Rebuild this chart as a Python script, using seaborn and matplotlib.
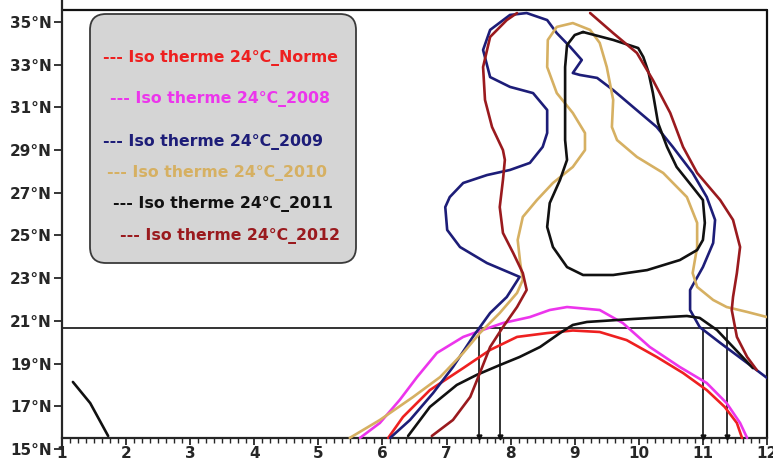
import numpy as np
import pandas as pd
import matplotlib
matplotlib.use("Agg")
import matplotlib.pyplot as plt
import seaborn as sns
from matplotlib.patches import FancyBboxPatch
from matplotlib.transforms import IdentityTransform

# ---------------- data (longitude, latitude of the 24°C isotherm) ----------------
norme_lon = [6.09, 6.32, 6.74, 7.26, 7.68, 8.10, 8.57, 8.97, 9.39, 9.81, 10.28, 10.69, 11.06, 11.34, 11.53, 11.61]
norme_lat = [15.52, 16.50, 17.76, 18.79, 19.64, 20.25, 20.43, 20.55, 20.48, 20.10, 19.31, 18.56, 17.76, 16.97, 16.22, 15.52]

y2008_lon = [5.65, 5.96, 6.27, 6.54, 6.85, 7.26, 7.52, 7.88, 8.30, 8.61, 8.88, 9.39, 9.75, 10.17, 10.64, 11.06, 11.37, 11.58, 11.69]
y2008_lat = [15.52, 16.22, 17.30, 18.37, 19.50, 20.25, 20.53, 20.90, 21.18, 21.51, 21.65, 21.51, 20.90, 19.78, 18.84, 18.09, 17.15, 16.22, 15.52]

y2009_lon = [6.12, 6.43, 6.79, 7.10, 7.41, 7.68, 7.94, 8.14, 7.63, 7.21, 7.01, 6.98, 7.05, 7.26, 7.63, 7.99,
             8.30, 8.50, 8.57, 8.57, 8.35, 7.99, 7.68, 7.57, 7.68, 7.99, 8.25, 8.57, 8.72, 8.93, 9.11, 8.97,
             9.08, 9.35, 9.60, 9.91, 10.28, 10.53, 10.84, 11.06, 11.19, 11.16, 11.00, 10.80, 10.80, 10.95,
             11.27, 11.69, 12.00]
y2009_lat = [15.52, 16.36, 17.62, 18.84, 20.25, 21.37, 22.12, 23.06, 23.71, 24.46, 25.26, 26.33, 26.80, 27.46, 27.83, 28.07,
             28.40, 29.15, 29.80, 30.88, 31.67, 31.96, 32.42, 33.69, 34.63, 35.33, 35.42, 35.09, 34.48, 33.83, 33.22, 32.61,
             32.52, 32.38, 31.81, 31.02, 30.08, 29.15, 27.93, 26.80, 25.73, 24.65, 23.52, 22.45, 21.51, 20.71,
             19.97, 19.03, 18.33]

y2010_lon = [5.49, 5.96, 6.48, 6.90, 7.26, 7.52, 7.83, 8.10, 8.19, 8.15, 8.11, 8.19, 8.41, 8.66, 8.97, 9.16, 9.16,
             8.97, 8.72, 8.57, 8.58, 8.72, 8.97, 9.24, 9.39, 9.50, 9.60, 9.58, 9.66, 9.97, 10.38, 10.75, 10.91,
             10.91, 10.84, 10.91, 11.16, 11.37, 11.69, 12.00]
y2010_lat = [15.52, 16.36, 17.44, 18.37, 19.50, 20.43, 21.37, 22.31, 22.92, 23.71, 24.79, 25.87, 26.66, 27.46, 28.21, 29.00, 29.80,
             30.74, 31.67, 32.89, 34.16, 34.77, 34.95, 34.63, 34.02, 32.89, 31.35, 30.08, 29.47, 28.68, 27.93, 26.80, 25.59,
             24.46, 23.24, 22.59, 21.98, 21.65, 21.42, 21.18]

y2011_south_lon = [6.40, 6.74, 7.16, 7.47, 7.83, 8.14, 8.46, 8.77, 8.97, 9.19, 9.91, 10.75, 10.95, 11.22, 11.47, 11.78]
y2011_south_lat = [15.61, 16.97, 18.00, 18.47, 18.93, 19.31, 19.78, 20.43, 20.81, 20.95, 21.09, 21.23, 21.14, 20.57, 19.78, 18.79]
y2011_loop_lon = [9.13, 9.60, 9.99, 10.07, 10.15, 10.22, 10.30, 10.44, 10.59, 10.84, 11.00, 11.03, 11.00, 10.91, 10.64,
                  10.13, 9.60, 9.13, 8.88, 8.66, 8.57, 8.61, 8.77, 8.88, 8.85, 8.85, 8.85, 8.88, 9.00, 9.13]
y2011_loop_lat = [34.53, 34.16, 33.78, 33.36, 32.66, 31.67, 30.27, 29.15, 28.21, 27.27, 26.66, 25.59, 24.79, 24.32, 23.85,
                  23.38, 23.15, 23.15, 23.52, 24.46, 25.40, 26.52, 27.60, 28.54, 29.47, 31.35, 32.89, 33.92, 34.39, 34.53]
y2011_west_lon = [1.17, 1.44, 1.72]
y2011_west_lat = [18.14, 17.15, 15.61]

y2012_west_lon = [6.77, 7.10, 7.37, 7.52, 7.68, 7.88, 8.10, 8.25, 8.19, 8.04, 7.88, 7.83, 7.88, 7.91, 7.88, 7.71,
                  7.60, 7.57, 7.68, 7.94, 8.10]
y2012_west_lat = [15.61, 16.36, 17.44, 18.56, 19.78, 20.71, 21.65, 22.45, 23.24, 24.18, 25.12, 26.33, 27.60, 28.54, 29.00, 30.08,
                  31.35, 32.89, 34.30, 35.09, 35.42]
y2012_east_lon = [9.24, 9.60, 9.97, 10.22, 10.49, 10.69, 10.91, 11.27, 11.47, 11.58, 11.53, 11.47, 11.45, 11.53, 11.69, 11.84]
y2012_east_lat = [35.42, 34.48, 33.55, 32.28, 30.74, 29.15, 27.93, 26.66, 25.73, 24.46, 23.24, 22.12, 21.51, 20.25, 19.31, 18.70]

ref_lat = 20.65                       # horizontal reference latitude
ref_lons = [7.50, 7.83, 11.00, 11.37] # vertical markers
axis_lat = 15.52

series_names = ["Norme", "2008", "2009", "2010", "2011", "2012"]
series_colors = ["#ee2020", "#ec35ec", "#1d1d78", "#d6b062", "#111111", "#9a1a1e"]
legend_labels = ["--- Iso therme 24°C_Norme", "--- Iso therme 24°C_2008", "--- Iso therme 24°C_2009",
                 "--- Iso therme 24°C_2010", "--- Iso therme 24°C_2011", "--- Iso therme 24°C_2012"]
xtick_vals = list(range(1, 13))
ytick_vals = list(range(15, 36, 2))
ytick_labels = [f"{v}°N" for v in ytick_vals]

# ---------------- build long table ----------------
segments = [
    ("Norme", "n", norme_lon, norme_lat),
    ("2008", "a", y2008_lon, y2008_lat),
    ("2009", "b", y2009_lon, y2009_lat),
    ("2010", "c", y2010_lon, y2010_lat),
    ("2011", "d1", y2011_south_lon, y2011_south_lat),
    ("2011", "d2", y2011_loop_lon, y2011_loop_lat),
    ("2011", "d3", y2011_west_lon, y2011_west_lat),
    ("2012", "e1", y2012_west_lon, y2012_west_lat),
    ("2012", "e2", y2012_east_lon, y2012_east_lat),
]
rows = []
for name, seg, lo, la in segments:
    for i, (x, y) in enumerate(zip(lo, la)):
        rows.append({"series": name, "seg": seg, "order": i, "lon": x, "lat": y})
df = pd.DataFrame(rows)

sns.set_style("ticks")
plt.rcParams["font.family"] = ["DejaVu Sans"]
plt.rcParams["font.weight"] = "bold"

fig = plt.figure(figsize=(7.73, 4.67), dpi=100)
ax = fig.add_axes([62 / 773, 18 / 467, 705 / 773, 449 / 467])

palette = dict(zip(series_names, series_colors))
sns.lineplot(data=df, x="lon", y="lat", hue="series", units="seg", estimator=None,
             sort=False, palette=palette, linewidth=1.9, legend=False, ax=ax, zorder=3,
             solid_joinstyle="round", solid_capstyle="round")

ax.set_xlim(1, 12)
ax.set_ylim(15, 36.03)
ax.set_xlabel("")
ax.set_ylabel("")

# frame
for s in ["top", "right"]:
    ax.spines[s].set_visible(False)
ax.spines["bottom"].set_position(("data", axis_lat))
ax.spines["bottom"].set_linewidth(1.6)
ax.spines["left"].set_linewidth(1.6)
ax.plot([1, 12], [35.56, 35.56], color="#111111", lw=1.6, zorder=2, clip_on=False)
ax.plot([12, 12], [axis_lat, 35.56], color="#111111", lw=1.6, zorder=2, clip_on=False)

# reference lines
ax.axhline(ref_lat, color="#333333", lw=1.4, zorder=2)
for xv in ref_lons:
    ax.plot([xv, xv], [axis_lat, ref_lat], color="#111111", lw=1.2, zorder=2)
    ax.plot([xv], [axis_lat + 0.05], marker="v", ms=3.5, color="#111111", zorder=4, clip_on=False)

ax.set_xticks(xtick_vals)
ax.set_xticklabels([str(v) for v in xtick_vals], fontsize=11, fontweight="bold")
ax.set_xticks(np.arange(1, 12.001, 0.125), minor=True)
ax.set_yticks(ytick_vals)
ax.set_yticklabels(ytick_labels, fontsize=11, fontweight="bold")
ax.tick_params(axis="x", which="major", direction="out", length=5, width=1.3, pad=1)
ax.tick_params(axis="x", which="minor", direction="out", length=3.5, width=1.0)
ax.tick_params(axis="y", which="major", direction="out", length=5.5, width=1.3, pad=2)

# rounded legend box
box = FancyBboxPatch((90, 467 - 263), 266, 249, boxstyle="round,pad=0,rounding_size=16",
                     facecolor="#d5d5d5", edgecolor="#3a3a3a", linewidth=1.3, zorder=5)
box.set_transform(IdentityTransform())
fig.add_artist(box)

text_x = [103, 110, 103, 107, 113, 120]
text_y = [58, 99, 142, 173, 204, 236]
for lab, col, tx, ty in zip(legend_labels, series_colors, text_x, text_y):
    fig.text(tx / 773, 1 - ty / 467, lab, color=col, fontsize=11.3, fontweight="bold",
             ha="left", va="center", zorder=6)

fig.savefig("out.png", dpi=100)
